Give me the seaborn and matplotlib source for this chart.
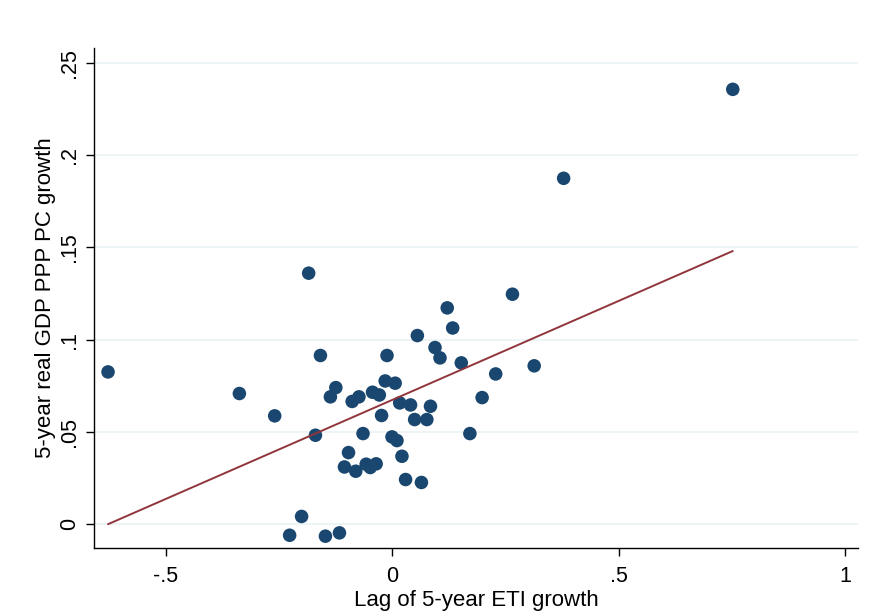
import numpy as np
import pandas as pd
import matplotlib
matplotlib.use("Agg")
import matplotlib.pyplot as plt
import seaborn as sns

eti_growth = [
    -0.185, -0.159, -0.012, -0.628, -0.338, -0.125, -0.137, -0.089, -0.074, -0.044,
    -0.029, -0.016, -0.260, -0.024, -0.170, -0.065, -0.097, -0.106, -0.081, -0.058,
    -0.049, -0.036, -0.2006, -0.227, -0.148, -0.117,
    0.265, 0.121, 0.133, 0.055, 0.094, 0.105, 0.152, 0.313, 0.228, 0.006,
    0.198, 0.016, 0.040, 0.084, 0.049, 0.076, 0.171, -0.001, 0.010, 0.021,
    0.029, 0.064, 0.7515, 0.378,
]
gdp_growth = [
    0.136, 0.0914, 0.0914, 0.0825, 0.0708, 0.074, 0.069, 0.0665, 0.069, 0.0715,
    0.070, 0.0776, 0.0587, 0.0589, 0.0482, 0.0491, 0.0388, 0.031, 0.0287, 0.0325,
    0.0307, 0.0327, 0.0042, -0.006, -0.0065, -0.0047,
    0.1246, 0.1172, 0.1063, 0.1022, 0.0957, 0.0901, 0.0874, 0.0858, 0.0814, 0.0764,
    0.0686, 0.0657, 0.0646, 0.0639, 0.0567, 0.0567, 0.0491, 0.0473, 0.0453, 0.0368,
    0.0242, 0.0226, 0.2356, 0.1874,
]
# fitted line (as drawn in the reference)
fit_x = [-0.628, 0.7515]
fit_y = [0.0, 0.148]

x_ticks = [-0.5, 0, 0.5, 1]
x_tick_labels = ["-.5", "0", ".5", "1"]
y_ticks = [0, 0.05, 0.1, 0.15, 0.2, 0.25]
y_tick_labels = ["0", ".05", ".1", ".15", ".2", ".25"]

df = pd.DataFrame({"eti": eti_growth, "gdp": gdp_growth})
fit_df = pd.DataFrame({"eti": fit_x, "fit": fit_y})

sns.set_theme(style="white")
plt.rcParams["font.family"] = ["Liberation Sans", "DejaVu Sans"]

fig = plt.figure(figsize=(8.7, 6.14), dpi=100)
ax = fig.add_axes([94 / 870, 1 - 548 / 614, (858 - 94) / 870, (548 - 48) / 614])

for yt in y_ticks:
    ax.axhline(yt, color="#eaf2f3", lw=1.2, zorder=0)

sns.scatterplot(data=df, x="eti", y="gdp", ax=ax, color="#1a476f", s=95,
                edgecolor="none", zorder=3)
sns.lineplot(data=fit_df, x="eti", y="fit", ax=ax, color="#90353b", lw=1.4,
             zorder=4, estimator=None, sort=False)

ax.set_xlim(-0.659, 1.028)
ax.set_ylim(-0.0129, 0.258)
ax.set_xticks(x_ticks)
ax.set_xticklabels(x_tick_labels)
ax.set_yticks(y_ticks)
ax.set_yticklabels(y_tick_labels, rotation=90, va="center")

for side in ["top", "right"]:
    ax.spines[side].set_visible(False)
for side in ["left", "bottom"]:
    ax.spines[side].set_color("black")
    ax.spines[side].set_linewidth(1.0)

ax.tick_params(axis="both", which="major", direction="out", length=6, width=1,
               color="black", labelsize=15.5, labelcolor="black",
               bottom=True, left=True, pad=4)
ax.tick_params(axis="x", pad=7)
ax.set_xlabel("Lag of 5-year ETI growth", fontsize=16, color="black", labelpad=2)
ax.set_ylabel("5-year real GDP PPP PC growth", fontsize=16, color="black", labelpad=2)

fig.savefig("out.png", dpi=100, facecolor="white")
